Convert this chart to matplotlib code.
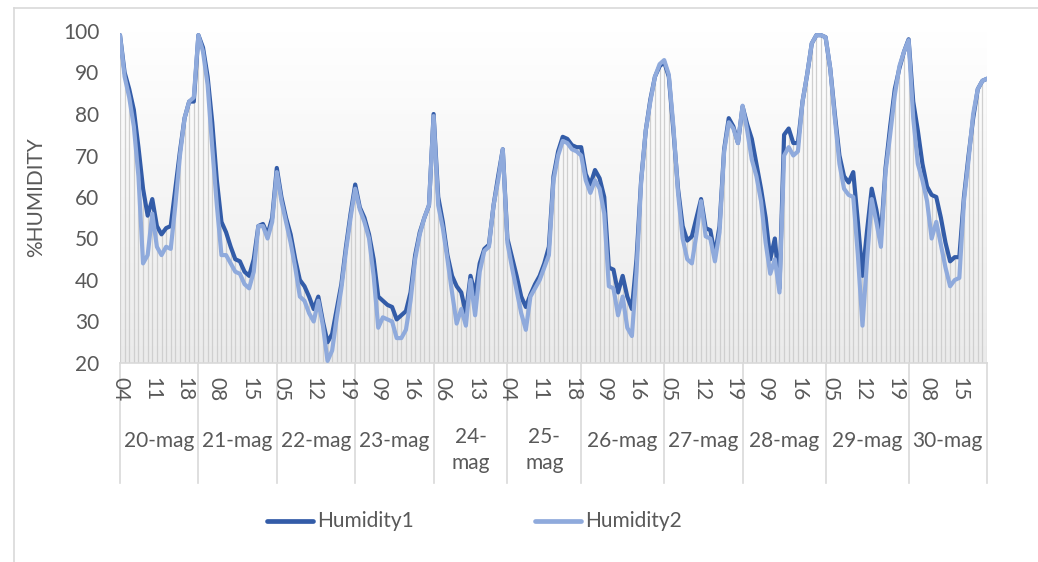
import matplotlib.pyplot as plt
import numpy as np
from matplotlib.colors import LinearSegmentedColormap
from matplotlib.lines import Line2D
import matplotlib.transforms as mtransforms

plt.rcParams['font.family'] = ['Lato', 'DejaVu Sans']

# readings per day, each day starts at 04:00
days = ['20-mag', '21-mag', '22-mag', '23-mag', '24-\nmag', '25-\nmag',
        '26-mag', '27-mag', '28-mag', '29-mag', '30-mag']
day_lengths = [17, 17, 17, 17, 16, 16, 18, 17, 18, 18, 18]
first_hour = 4

humidity1 = [
    99, 90, 86, 81, 72, 62, 55.5, 59.5, 53, 51, 52.5, 53, 62, 71, 79, 83, 83,
    99, 96, 89, 78, 64, 54, 51.5, 48, 45, 44.5, 42, 41, 45, 53, 53.5, 51, 55,
    67, 60, 55, 51, 45, 40, 38.5, 36, 33, 36, 30, 25, 27, 33, 39, 48, 56,
    63, 57.5, 55, 51, 45, 36, 35, 34, 33.5, 30.5, 31.5, 32.5, 37, 46, 51.5, 55, 58,
    80, 60, 54, 46, 41, 38.5, 37, 32, 41, 36.5, 44, 47.5, 48.5, 58, 65, 71.5,
    50, 45.5, 41, 36, 33.5, 36.5, 39, 41, 44, 48, 65, 71, 74.5, 74, 72.5, 72,
    72, 65.5, 63, 66.5, 64.5, 60, 43, 42.5, 37, 41, 36, 33, 45, 64, 76, 83.5, 89, 91.5,
    92.5, 89, 76, 62, 53, 49.5, 50.5, 55, 59.5, 52.5, 52, 46, 53, 71.5, 79, 77, 73,
    81.8, 77.5, 74, 68, 62, 55, 45, 50, 38, 75, 76.5, 73, 73, 83, 89.5, 97, 99, 99,
    98.5, 91, 80, 70, 65, 63.5, 66, 54, 41, 52, 62, 57, 50.5, 67, 77, 86, 91, 95,
    98, 83, 76, 68, 62.5, 60.5, 60, 55, 49, 44.5, 45.5, 45.5, 60, 70, 79, 86, 88, 88.5,
]
humidity2 = [
    99, 89, 84, 77, 65, 44, 46, 56, 48, 46, 48, 47.5, 58, 70, 79, 83, 84,
    99, 95, 87, 72, 58, 46, 46, 44, 42, 41.5, 39, 38, 42, 53, 53, 50, 54,
    66, 59, 54, 49, 43, 36, 35, 32, 30, 35, 29, 20.5, 23, 31, 38, 47, 55,
    62, 57, 54, 50, 41, 28.5, 31, 30.5, 30, 26, 26, 28, 35, 45, 51, 55, 58,
    79.5, 58, 52.5, 45, 37, 29.5, 33, 29, 40, 31.5, 42, 47, 48, 58, 64, 71.5,
    49, 43, 37.5, 32, 28, 36, 38, 40, 43, 46, 64, 70, 73.5, 73, 71.5, 71,
    70, 64, 61, 64, 62, 56, 38.5, 38, 31.5, 36, 28.5, 26.5, 42, 63.5, 76, 83, 89, 92,
    93, 89.5, 77, 61, 50, 45, 44, 51, 59, 50.5, 50, 44.5, 51.5, 71, 78, 76.5, 73,
    82, 76, 69, 65, 59, 49, 41.5, 45, 37, 70, 72, 70, 71, 83, 89.5, 97, 99, 99,
    98.5, 91, 79, 68, 62, 60.5, 60, 46, 29, 45, 59.5, 54, 48, 66, 75, 84.5, 91.5, 95,
    97.8, 79, 68, 64, 59, 50, 54, 48.5, 43, 38.5, 40, 40.5, 59, 69, 80, 86, 88, 88.5,
]

hours = []
day_starts = []
for n in day_lengths:
    day_starts.append(len(hours))
    hours += ['%02d' % (first_hour + k) for k in range(n)]

h1 = np.array(humidity1)
h2 = np.array(humidity2)
x = np.arange(len(hours))
last = len(hours) - 1

grey_text = '#595959'
grid_grey = '#d9d9d9'
c1 = '#335CA8'
c2 = '#8FAADC'
fs = 15

fig = plt.figure(figsize=(10.38, 5.62), dpi=100)
ax = fig.add_axes([120 / 1038, 1 - 363 / 562, 867 / 1038, 332 / 562])

# soft white-to-grey fill behind the plot
fade = LinearSegmentedColormap.from_list('fade', ['#ebebeb', '#ffffff'])
ax.imshow(np.linspace(0, 1, 256)[:, None], extent=[0, last, 20, 100],
          origin='lower', aspect='auto', cmap=fade, zorder=0)

# drop lines from each reading down to the axis
ax.vlines(x, 20, np.maximum(h1, h2), color='#cfcfcf', lw=0.9, zorder=1)

ax.plot(x, h1, color=c1, lw=3.0, solid_joinstyle='round', solid_capstyle='round', zorder=3)
ax.plot(x, h2, color=c2, lw=3.0, solid_joinstyle='round', solid_capstyle='round', zorder=4)

ax.set_xlim(0, last)
ax.set_ylim(20, 100)
ax.set_yticks(range(20, 101, 10))
ax.tick_params(axis='y', length=0, labelsize=fs, labelcolor=grey_text, pad=15)
ax.set_xticks([])
for s in ax.spines.values():
    s.set_visible(False)
ax.set_ylabel('%HUMIDITY', fontsize=fs, color=grey_text, labelpad=12)

trans = mtransforms.blended_transform_factory(ax.transData, ax.transAxes)
ax.add_line(Line2D([0, last], [0, 0], transform=trans, color=grid_grey, lw=1.2, clip_on=False))

# hour labels every 7th reading
for i in range(0, len(hours), 7):
    ax.text(i, -0.042, hours[i], transform=trans, rotation=-90, ha='center', va='top',
            fontsize=fs, color=grey_text)

# day groups with divider lines
bounds = day_starts + [last]
for b in bounds:
    ax.add_line(Line2D([b, b], [0, -0.36], transform=trans, color=grid_grey, lw=1.2,
                       clip_on=False))
for k, d in enumerate(days):
    mid = (bounds[k] + bounds[k + 1]) / 2
    ypos = -0.235 if '\n' not in d else -0.262
    ax.text(mid, ypos, d, transform=trans, ha='center', va='center', fontsize=fs,
            color=grey_text, linespacing=1.4)

# legend along the bottom
fig.add_artist(Line2D([267 / 1038, 313 / 1038], [1 - 521 / 562] * 2, color=c1, lw=3.4,
                      solid_capstyle='round'))
fig.text(317 / 1038, 1 - 521 / 562, 'Humidity1', fontsize=fs, color=grey_text, va='center')
fig.add_artist(Line2D([535 / 1038, 581 / 1038], [1 - 521 / 562] * 2, color=c2, lw=3.4,
                      solid_capstyle='round'))
fig.text(585 / 1038, 1 - 521 / 562, 'Humidity2', fontsize=fs, color=grey_text, va='center')

# chart frame edges
fig.add_artist(Line2D([14 / 1038, 14 / 1038], [0, 1 - 8 / 562], color=grid_grey, lw=1.2))
fig.add_artist(Line2D([14 / 1038, 1], [1 - 8 / 562] * 2, color=grid_grey, lw=1.2))

fig.savefig('out.png', dpi=100)
